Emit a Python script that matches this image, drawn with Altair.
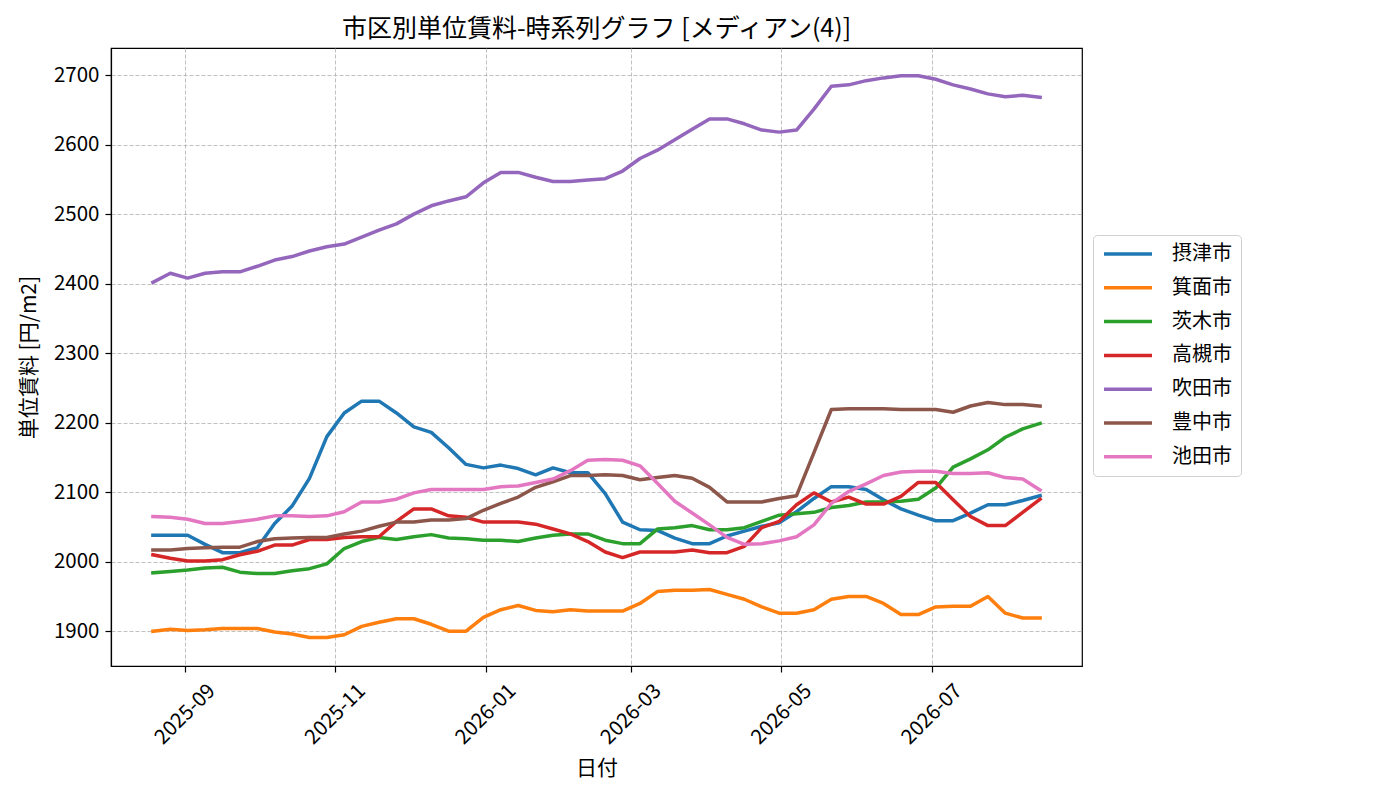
import altair as alt
import pandas as pd

# ---- data ----
dates = pd.date_range("2025-08-19", "2026-08-14", periods=52).strftime("%Y-%m-%dT%H:%M").tolist()

cities = ["摂津市", "箕面市", "茨木市", "高槻市", "吹田市", "豊中市", "池田市"]
colors = ["#1f77b4", "#ff7f0e", "#2ca02c", "#d62728", "#9467bd", "#8c564b", "#e377c2"]

settsu = [2038, 2038, 2038, 2025, 2013, 2013, 2020, 2055, 2080, 2120, 2180, 2214, 2231, 2231,
          2214, 2194, 2186, 2164, 2140, 2135, 2139, 2134, 2125, 2135, 2128, 2128, 2098, 2057,
          2046, 2045, 2034, 2026, 2026, 2037, 2044, 2051, 2056, 2072, 2091, 2108, 2108, 2104,
          2089, 2076, 2067, 2059, 2059, 2070, 2082, 2082, 2088, 2095]
minoh = [1900, 1903, 1901, 1902, 1904, 1904, 1904, 1899, 1896, 1891, 1891, 1895, 1907, 1913,
         1918, 1918, 1910, 1900, 1900, 1920, 1931, 1937, 1930, 1928, 1931, 1929, 1929, 1929,
         1940, 1957, 1959, 1959, 1960, 1953, 1946, 1935, 1926, 1926, 1931, 1946, 1950, 1950,
         1940, 1924, 1924, 1935, 1936, 1936, 1950, 1926, 1919, 1919]
ibaraki = [1984, 1986, 1988, 1991, 1992, 1985, 1983, 1983, 1987, 1990, 1997, 2019, 2029, 2035,
           2032, 2036, 2039, 2034, 2033, 2031, 2031, 2029, 2034, 2038, 2040, 2040, 2031, 2026,
           2026, 2047, 2049, 2052, 2046, 2046, 2049, 2058, 2067, 2069, 2071, 2078, 2081, 2086,
           2086, 2087, 2090, 2106, 2136, 2148, 2161, 2179, 2191, 2199]
takatsuki = [2010, 2005, 2001, 2001, 2003, 2010, 2015, 2024, 2024, 2032, 2032, 2035, 2036, 2036,
             2058, 2076, 2076, 2066, 2064, 2057, 2057, 2057, 2054, 2047, 2040, 2029, 2014, 2006,
             2014, 2014, 2014, 2017, 2013, 2013, 2022, 2049, 2058, 2082, 2099, 2086, 2093, 2083,
             2083, 2094, 2114, 2114, 2089, 2065, 2052, 2052, 2071, 2090]
suita = [2402, 2415, 2408, 2415, 2417, 2417, 2425, 2434, 2439, 2447, 2453, 2457, 2467, 2477,
         2486, 2500, 2512, 2519, 2525, 2545, 2560, 2560, 2553, 2547, 2547, 2549, 2551, 2562,
         2580, 2592, 2607, 2622, 2637, 2637, 2630, 2621, 2618, 2621, 2651, 2684, 2686, 2692,
         2696, 2699, 2699, 2694, 2686, 2680, 2673, 2669, 2671, 2668]
toyonaka = [2017, 2017, 2019, 2020, 2021, 2021, 2029, 2033, 2034, 2035, 2035, 2040, 2044, 2051,
            2057, 2057, 2060, 2060, 2062, 2074, 2084, 2093, 2107, 2115, 2124, 2124, 2125, 2124,
            2118, 2121, 2124, 2120, 2107, 2086, 2086, 2086, 2091, 2095, 2157, 2219, 2220, 2220,
            2220, 2219, 2219, 2219, 2215, 2224, 2229, 2226, 2226, 2224]
ikeda = [2065, 2064, 2061, 2055, 2055, 2058, 2061, 2066, 2066, 2065, 2066, 2072, 2086, 2086,
         2090, 2099, 2104, 2104, 2104, 2104, 2108, 2109, 2114, 2119, 2131, 2146, 2147, 2146,
         2138, 2113, 2087, 2070, 2053, 2035, 2025, 2026, 2030, 2036, 2053, 2084, 2101, 2112,
         2124, 2129, 2130, 2130, 2127, 2127, 2128, 2121, 2119, 2103]

series = [settsu, minoh, ibaraki, takatsuki, suita, toyonaka, ikeda]

rows = []
for city, vals in zip(cities, series):
    for d, v in zip(dates, vals):
        rows.append({"date": d, "city": city, "value": v, "order": cities.index(city)})
df = pd.DataFrame(rows)

x_ticks = [alt.DateTime(year=y, month=m, date=1) for (y, m) in
           [(2025, 9), (2025, 11), (2026, 1), (2026, 3), (2026, 5), (2026, 7)]]
y_ticks = [1900, 2000, 2100, 2200, 2300, 2400, 2500, 2600, 2700]

chart = alt.Chart(df).mark_line(strokeWidth=3.5, strokeCap="square", strokeJoin="round").encode(
    x=alt.X("date:T",
            title="日付",
            scale=alt.Scale(domain=[alt.DateTime(year=2025, month=8, date=2),
                                    alt.DateTime(year=2026, month=8, date=31)], nice=False),
            axis=alt.Axis(values=x_ticks, format="%Y-%m", labelAngle=-45, labelAlign="center",
                          labelBaseline="middle", labelPadding=42, titlePadding=9)),
    y=alt.Y("value:Q",
            title="単位賃料 [円/m2]",
            scale=alt.Scale(domain=[1850, 2739], nice=False, zero=False),
            axis=alt.Axis(values=y_ticks, format="d", titlePadding=14, labelPadding=6)),
    color=alt.Color("city:N",
                    scale=alt.Scale(domain=cities, range=colors),
                    sort=cities,
                    legend=alt.Legend(orient="none", legendX=982, legendY=187, title=None,
                                      symbolType="stroke", symbolSize=2304, symbolStrokeWidth=3.5,
                                      labelFontSize=20, clipHeight=20, rowPadding=13.8,
                                      labelOffset=18, padding=9, strokeColor="#d0d0d0",
                                      cornerRadius=4, fillColor="white", labelColor="black")),
    order=alt.Order("order:Q"),
).properties(
    width=971,
    height=618,
    title=alt.Title("市区別単位賃料-時系列グラフ [メディアン(4)]", fontSize=25,
                    fontWeight="normal", offset=6, color="black"),
    padding={"left": 10, "top": 9, "right": 5, "bottom": 5},
).configure(
    font="Noto Sans CJK JP",
).configure_view(
    stroke="black", strokeWidth=1.2,
).configure_axis(
    labelFontSize=20.5, titleFontSize=21, titleFontWeight="normal",
    labelColor="black", titleColor="black", tickColor="black", domainColor="black",
    domainWidth=1.2, tickWidth=1.2, tickSize=6,
    gridColor="#b0b0b0", gridDash=[4, 2], gridWidth=0.8,
)

chart.save("out.html", embed_options={"renderer": "svg", "actions": False})
